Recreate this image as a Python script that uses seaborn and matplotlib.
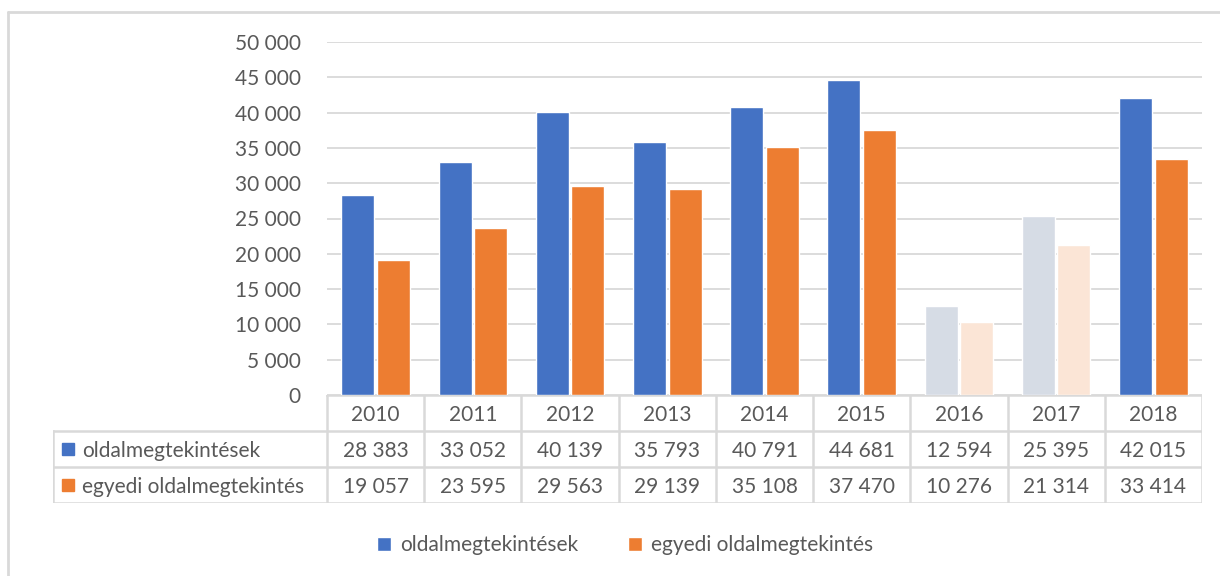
"""Oldalmegtekintések évenként – oszlopdiagram adattáblával (Excel-stílus)."""

import matplotlib

matplotlib.use("Agg")

import matplotlib.pyplot as plt
from matplotlib.lines import Line2D
from matplotlib.patches import Rectangle
import pandas as pd
import seaborn as sns


YEARS = ["2010", "2011", "2012", "2013", "2014", "2015", "2016", "2017", "2018"]
PAGE_VIEWS = [28383, 33052, 40139, 35793, 40791, 44681, 12594, 25395, 42015]
UNIQUE_VIEWS = [19057, 23595, 29563, 29139, 35108, 37470, 10276, 21314, 33414]
SERIES = ["oldalmegtekintések", "egyedi oldalmegtekintés"]
FADED_YEARS = ["2016", "2017"]
Y_TICKS = [0, 5000, 10000, 15000, 20000, 25000, 30000, 35000, 40000, 45000, 50000]

COLORS = ["#4472C4", "#ED7D31"]
FADED_COLORS = ["#D6DCE5", "#FBE5D6"]
TEXT_COLOR = "#595959"
LINE_COLOR = "#D9D9D9"
FONT = ["Lato", "DejaVu Sans"]
FONT_SIZE = 15

W, H = 1220, 576


def fmt(value: int) -> str:
    return f"{value:,}".replace(",", " ")


def fx(px: float) -> float:
    return px / W


def fy(px: float) -> float:
    return 1 - px / H


sns.set_theme(style="white")
plt.rcParams["font.family"] = FONT

data = pd.DataFrame({
    "év": YEARS * 2,
    "sorozat": [SERIES[0]] * len(YEARS) + [SERIES[1]] * len(YEARS),
    "érték": PAGE_VIEWS + UNIQUE_VIEWS,
})

figure = plt.figure(figsize=(W / 100, H / 100), dpi=100)

# keret a diagram körül (csak a bal és felső él látszik)
figure.add_artist(Line2D([fx(8), fx(8)], [fy(12), 0], color=LINE_COLOR, lw=2))
figure.add_artist(Line2D([fx(8), 1], [fy(12), fy(12)], color=LINE_COLOR, lw=2))

plot_left, plot_right, plot_top, plot_bottom = 327, 1202, 42, 395
axis = figure.add_axes([fx(plot_left), fy(plot_bottom), fx(plot_right - plot_left), (plot_bottom - plot_top) / H])

sns.barplot(data=data, x="év", y="érték", hue="sorozat", palette=COLORS, width=0.73, gap=0.07,
            saturation=1, ax=axis, legend=False)

for series_index, container in enumerate(axis.containers):
    for year, bar in zip(YEARS, container):
        if year in FADED_YEARS:
            bar.set_facecolor(FADED_COLORS[series_index])

axis.set_xlim(-0.5, len(YEARS) - 0.5)
axis.set_ylim(0, 50000)
axis.set_yticks(Y_TICKS)
axis.set_yticklabels([fmt(t) for t in Y_TICKS], color=TEXT_COLOR, fontsize=FONT_SIZE)
axis.tick_params(axis="y", length=0, pad=19)
axis.set_xticks([])
axis.set_xlabel("")
axis.set_ylabel("")
axis.yaxis.grid(True, color=LINE_COLOR, lw=1.3)
axis.set_axisbelow(True)
for spine in axis.spines.values():
    spine.set_visible(False)

# adattábla az x tengely alatt
table_left, row_height = 53, 36
category_px = (plot_right - plot_left) / len(YEARS)
table_axis = figure.add_axes([fx(table_left), fy(plot_bottom + 3 * row_height), fx(plot_right - table_left),
                              3 * row_height / H])
table_axis.set_xlim(-0.5 - (plot_left - table_left) / category_px, len(YEARS) - 0.5)
table_axis.set_ylim(3, 0)
table_axis.axis("off")
left_edge = table_axis.get_xlim()[0]
line_style = dict(color=LINE_COLOR, lw=1.8, solid_capstyle="projecting")

table_axis.plot([-0.5, len(YEARS) - 0.5], [0, 0], **line_style)
for row in (1, 2, 3):
    table_axis.plot([left_edge, len(YEARS) - 0.5], [row, row], **line_style)
table_axis.plot([left_edge, left_edge], [1, 3], **line_style)
for boundary in range(len(YEARS) + 1):
    table_axis.plot([boundary - 0.5, boundary - 0.5], [0, 3], **line_style)

cell_text = dict(ha="center", va="center_baseline", color=TEXT_COLOR, fontsize=FONT_SIZE)
for index, year in enumerate(YEARS):
    table_axis.text(index, 0.5, year, **cell_text)
    table_axis.text(index, 1.5, fmt(PAGE_VIEWS[index]), **cell_text)
    table_axis.text(index, 2.5, fmt(UNIQUE_VIEWS[index]), **cell_text)

marker_x = left_edge + 15 / category_px
for row, (name, color) in enumerate(zip(SERIES, COLORS), start=1):
    table_axis.plot(marker_x, row + 0.5, marker="s", markersize=8, color=color, linestyle="none")
    table_axis.text(marker_x + 14 / category_px, row + 0.5, name, ha="left", va="center_baseline",
                    color=TEXT_COLOR, fontsize=FONT_SIZE)

# jelmagyarázat
handles = [Rectangle((0, 0), 1, 1, facecolor=color) for color in COLORS]
figure.legend(handles, SERIES, loc="center", bbox_to_anchor=(fx(625), fy(545)), ncol=2, frameon=False,
              fontsize=FONT_SIZE, labelcolor=TEXT_COLOR, handlelength=0.65, handleheight=0.65,
              handletextpad=0.45, columnspacing=2.4)

figure.savefig("out.png", dpi=100, facecolor="white")
plt.close(figure)
